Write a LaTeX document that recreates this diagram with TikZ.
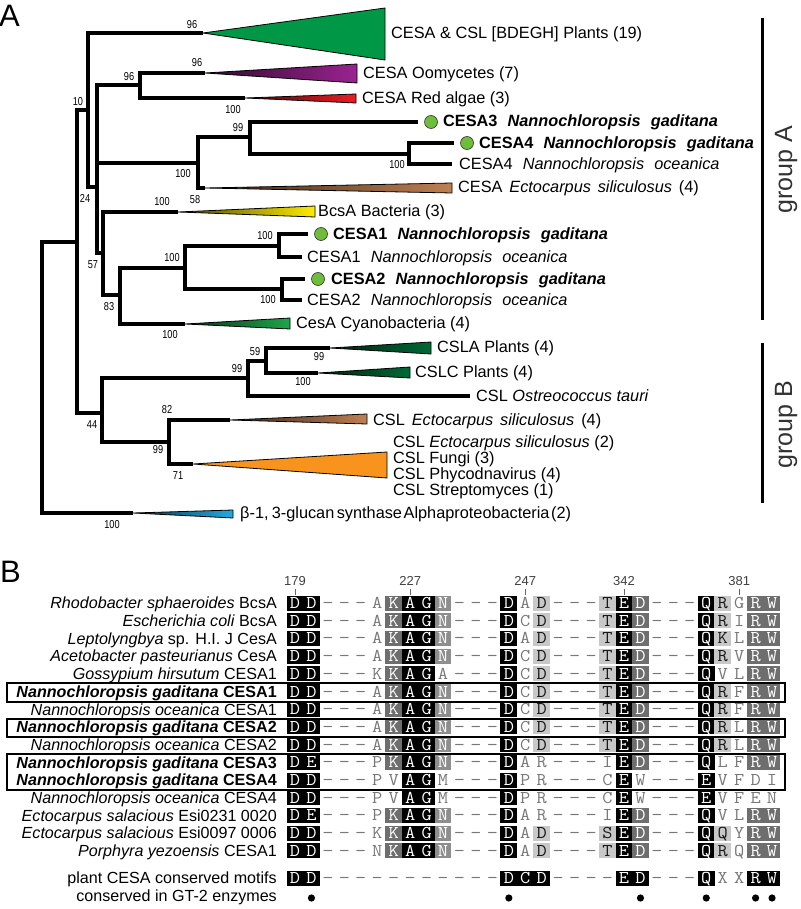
\documentclass[tikz,border=0pt]{standalone}
\usepackage{fontspec}
\usepackage{graphicx}
\setmainfont{Liberation Sans}
\newfontfamily\narrowfont[FakeStretch=0.8]{Liberation Sans}
\usetikzlibrary{calc}
\definecolor{cPlant}{RGB}{0,152,70}
\definecolor{cPurp}{RGB}{155,35,145}
\definecolor{cRed}{RGB}{237,28,36}
\definecolor{cBrown}{RGB}{190,128,82}
\definecolor{cYel}{RGB}{255,236,0}
\definecolor{cCyan}{RGB}{30,165,75}
\definecolor{cDkG}{RGB}{0,105,55}
\definecolor{cOra}{RGB}{248,148,30}
\definecolor{cBlue}{RGB}{35,170,225}
\definecolor{cDot}{RGB}{110,190,60}
\definecolor{cG}{RGB}{110,110,110}
\definecolor{cM}{RGB}{142,142,142}
\definecolor{cL}{RGB}{200,200,200}
\definecolor{cT}{RGB}{120,120,120}
\definecolor{cGrp}{RGB}{50,50,50}
\newcommand{\lbsize}{\fontsize{16.3}{19}\selectfont}
\newcommand{\alsize}{\fontsize{16.1}{19}\selectfont}
\newcommand{\bsfont}{\narrowfont\fontsize{11.5}{13}\selectfont}
\newcommand{\alfont}{\ttfamily\fontsize{18}{18}\selectfont}
\newcommand{\wsp}{\hspace{0.62em}}
\newcommand{\msp}{\hspace{0.42em}}
\newcommand{\alnch}[1]{\if-#1\scalebox{1.2}[1]{-}\else\scalebox{1.1}[1]{#1}\fi}
\newcommand{\shtri}[6]{\draw[tri, left color=#6!30!black, right color=#6] (#1,#2) -- (#3,#4) -- (#3,#5) -- cycle;}
\newcommand{\alnrow}[3]{\foreach \alc/\alk [count=\ci from 0] in {#3}{\node[cell\alk] (a#1-\ci) at ({295+16.45*\ci},#2) {\alnch{\alc}};}}
\begin{document}
\begin{tikzpicture}[x=1pt,y=-1pt,
  br/.style={line width=3.1pt, line join=miter},
  tri/.style={line width=0.8pt, draw=black},
  bs/.style={font=\bsfont, inner sep=0pt},
  lab/.style={anchor=base west, inner sep=0pt, yshift=-5.8pt, font=\lbsize},
  alab/.style={anchor=base east, inner sep=0pt, yshift=-5.8pt, font=\alsize},
  gdot/.style={circle, fill=cDot, draw=black!80, line width=0.6pt, minimum size=13pt, inner sep=0pt},
  cellbase/.style={minimum width=16.8pt, minimum height=15pt, inner sep=0pt, text height=11pt, text depth=0pt, font=\alfont},
  cellB/.style={cellbase, fill=black, text=white},
  cellG/.style={cellbase, fill=cG, text=white},
  cellM/.style={cellbase, fill=cM, text=white},
  cellL/.style={cellbase, fill=cL, text=black!90},
  cellW/.style={cellbase, text=cT},
  celln/.style={cellbase, text=cT},
  hdr/.style={font=\fontsize{13}{13}\selectfont, text=black!75, inner sep=0pt},
  tick/.style={line width=1pt, black!60},
  boxline/.style={line width=1.6pt, draw=black},
  grp/.style={font=\fontsize{25}{25}\selectfont, text=cGrp, rotate=90, inner sep=0pt},
  panel/.style={font=\fontsize{31}{31}\selectfont, anchor=base west, inner sep=0pt}]
\useasboundingbox (0,0) rectangle (800,909);

% ---------------- panel A : tree ----------------
\node[panel] (pA) at (-1,27) {A};

% branches
\draw[br] (77,242) -- (42,242) -- (42,513) -- (133,513);
\draw[br] (88,110) -- (77,110) -- (77,413) -- (102,413);
\draw[br] (203,33) -- (88,33) -- (88,187) -- (97,187);
\draw[br] (140,85) -- (97,85) -- (97,253) -- (103,253);
\draw[br] (97,163) -- (198,163);
\draw[br] (205,73) -- (140,73) -- (140,98) -- (245,98);
\draw[br] (250,137) -- (198,137) -- (198,188) -- (205,188);
\draw[br] (418,122) -- (250,122) -- (250,154) -- (409,154);
\draw[br] (454,143) -- (409,143) -- (409,164) -- (452,164);
\draw[br] (178,212) -- (103,212) -- (103,295) -- (120,295);
\draw[br] (185,268) -- (120,268) -- (120,324) -- (185,324);
\draw[br] (279,246) -- (185,246) -- (185,289) -- (282,289);
\draw[br] (308,234) -- (279,234) -- (279,257) -- (302,257);
\draw[br] (305,279) -- (282,279) -- (282,300) -- (302,300);
\draw[br] (248,378) -- (102,378) -- (102,442) -- (169,442);
\draw[br] (266,361) -- (248,361) -- (248,396) -- (470,396);
\draw[br] (330,348) -- (266,348) -- (266,373) -- (318,373);
\draw[br] (230,420) -- (169,420) -- (169,464) -- (193,464);

% collapsed clades
\draw[tri, fill=cPlant] (203,33) -- (385,8) -- (385,60) -- cycle;
\shtri{205}{73}{357}{64}{83}{cPurp}
\shtri{245}{98}{356}{94}{103}{cRed}
\shtri{205}{188}{452}{183}{193}{cBrown}
\shtri{178}{212}{315}{206}{217}{cYel}
\shtri{185}{324}{290}{318}{329}{cCyan}
\shtri{330}{348}{431}{342}{354}{cDkG}
\shtri{318}{373}{410}{367}{378}{cDkG}
\shtri{230}{420}{367}{414}{424}{cBrown}
\draw[tri, fill=cOra] (193,464) -- (387,452) -- (387,478) -- cycle;
\shtri{133}{513}{233}{510}{518}{cBlue}

% bootstrap values
\node[bs] (b1) at (192,25) {96};
\node[bs] (b2) at (197,63) {96};
\node[bs] (b3) at (129,77) {96};
\node[bs] (b4) at (233,110) {100};
\node[bs] (b5) at (78,102) {10};
\node[bs] (b6) at (238,128) {99};
\node[bs] (b7) at (397,165) {100};
\node[bs] (b8) at (183,174) {100};
\node[bs] (b9) at (85,198) {24};
\node[bs] (b10) at (162,202) {100};
\node[bs] (b11) at (195,200) {58};
\node[bs] (b12) at (93,265) {57};
\node[bs] (b13) at (265,236) {100};
\node[bs] (b14) at (172,258) {100};
\node[bs] (b15) at (268,300) {100};
\node[bs] (b16) at (109,307) {83};
\node[bs] (b17) at (170,335) {100};
\node[bs] (b18) at (255,352) {59};
\node[bs] (b19) at (319,357) {99};
\node[bs] (b20) at (237,369) {99};
\node[bs] (b21) at (303,382) {100};
\node[bs] (b22) at (167,410) {82};
\node[bs] (b23) at (92,425) {44};
\node[bs] (b24) at (158,450) {99};
\node[bs] (b25) at (178,476) {71};
\node[bs] (b26) at (112,525) {100};

% leaf labels
\node[lab] (tPl) at (391,33) {CESA \& CSL [BDEGH] Plants (19)};
\node[lab] (tOo) at (363,73) {CESA Oomycetes (7)};
\node[lab] (tRa) at (362,98) {CESA Red algae (3)};
\node[gdot] (d3) at (431,122) {};
\node[lab] (t3) at (443,121) {\bfseries CESA3\wsp\textit{Nannochloropsis}\wsp\textit{gaditana}};
\node[gdot] (d4) at (467,143) {};
\node[lab] (t4) at (479,143) {\bfseries CESA4\wsp\textit{Nannochloropsis}\wsp\textit{gaditana}};
\node[lab] (t4o) at (459,164) {CESA4\wsp\textit{Nannochloropsis}\wsp\textit{oceanica}};
\node[lab] (tEc) at (458,187) {CESA\msp\textit{Ectocarpus}\msp\textit{siliculosus}\msp(4)};
\node[lab] (tBc) at (318,211) {BcsA Bacteria (3)};
\node[gdot] (d1) at (321,234) {};
\node[lab] (t1) at (333,234) {\bfseries CESA1\wsp\textit{Nannochloropsis}\wsp\textit{gaditana}};
\node[lab] (t1o) at (307,257) {CESA1\wsp\textit{Nannochloropsis}\wsp\textit{oceanica}};
\node[gdot] (d2) at (318,279) {};
\node[lab] (t2) at (331,279) {\bfseries CESA2\wsp\textit{Nannochloropsis}\wsp\textit{gaditana}};
\node[lab] (t2o) at (307,300) {CESA2\wsp\textit{Nannochloropsis}\wsp\textit{oceanica}};
\node[lab] (tCy) at (296,323) {CesA Cyanobacteria (4)};
\node[lab] (tLA) at (437,347) {CSLA Plants (4)};
\node[lab] (tLC) at (415,372) {CSLC Plants (4)};
\node[lab] (tOs) at (476,396) {CSL \textit{Ostreococcus tauri}};
\node[lab] (tEc2) at (373,420) {CSL\msp\textit{Ectocarpus}\msp\textit{siliculosus}\msp(4)};
\node[lab] (tEc3) at (393,442) {CSL \textit{Ectocarpus siliculosus} (2)};
\node[lab] (tFu) at (393,458) {CSL Fungi (3)};
\node[lab] (tPh) at (393,474) {CSL Phycodnavirus (4)};
\node[lab] (tSt) at (393,490) {CSL Streptomyces (1)};
\node[lab] (tBe) at (240,513) {β-1,\hspace{0.2em}3-glucan\hspace{0.15em}synthase\hspace{0.1em}Alphaproteobacteria\hspace{0.1em}(2)};

% groups
\draw[line width=3pt] (762,18) -- (762,320);
\draw[line width=3pt] (762,343) -- (762,503);
\node[grp] (gA) at (786,170) {group A};
\node[grp] (gB) at (786,425) {group B};

% ---------------- panel B : alignment ----------------
\node[panel] (pB) at (0,582) {B};

\node[hdr] (h1) at (295,581) {179};
\node[hdr] (h2) at (410.2,581) {227};
\node[hdr] (h3) at (525.3,581) {247};
\node[hdr] (h4) at (624,581) {342};
\node[hdr] (h5) at (739.2,581) {381};
\foreach \tx in {295,410.2,525.3,624,739.2} {\draw[tick] (\tx,589) -- (\tx,595);}

\node[alab] (l0) at (277,603) {\textit{Rhodobacter sphaeroides} BcsA};
\node[alab] (l1) at (277,620.7) {\textit{Escherichia coli} BcsA};
\node[alab] (l2) at (277,638.4) {\textit{Leptolyngbya} sp. H.I. J CesA};
\node[alab] (l3) at (277,656.1) {\textit{Acetobacter pasteurianus} CesA};
\node[alab] (l4) at (277,673.8) {\textit{Gossypium hirsutum} CESA1};
\node[alab] (l5) at (277,691.5) {\bfseries\textit{Nannochloropsis gaditana} CESA1};
\node[alab] (l6) at (277,709.2) {\textit{Nannochloropsis oceanica} CESA1};
\node[alab] (l7) at (277,726.9) {\bfseries\textit{Nannochloropsis gaditana} CESA2};
\node[alab] (l8) at (277,744.6) {\textit{Nannochloropsis oceanica} CESA2};
\node[alab] (l9) at (277,762.3) {\bfseries\textit{Nannochloropsis gaditana} CESA3};
\node[alab] (l10) at (277,780) {\bfseries\textit{Nannochloropsis gaditana} CESA4};
\node[alab] (l11) at (277,797.7) {\textit{Nannochloropsis oceanica} CESA4};
\node[alab] (l12) at (277,815.4) {\textit{Ectocarpus salacious} Esi0231 0020};
\node[alab] (l13) at (277,833.1) {\textit{Ectocarpus salacious} Esi0097 0006};
\node[alab] (l14) at (277,850.8) {\textit{Porphyra yezoensis} CESA1};
\node[alab] (l15) at (277,878) {plant CESA conserved motifs};
\node[alab] (l16) at (277,896) {conserved in GT-2 enzymes};

\alnrow{0}{603}{D/B,D/B,-/n,-/n,-/n,A/W,K/G,A/B,G/B,N/M,-/n,-/n,-/n,D/B,A/W,D/L,-/n,-/n,-/n,T/L,E/B,D/G,-/n,-/n,-/n,Q/B,R/L,G/W,R/G,W/G}
\alnrow{1}{620.7}{D/B,D/B,-/n,-/n,-/n,A/W,K/G,A/B,G/B,N/M,-/n,-/n,-/n,D/B,C/W,D/L,-/n,-/n,-/n,T/L,E/B,D/G,-/n,-/n,-/n,Q/B,R/L,I/W,R/G,W/G}
\alnrow{2}{638.4}{D/B,D/B,-/n,-/n,-/n,A/W,K/G,A/B,G/B,N/M,-/n,-/n,-/n,D/B,A/W,D/L,-/n,-/n,-/n,T/L,E/B,D/G,-/n,-/n,-/n,Q/B,K/L,L/W,R/G,W/G}
\alnrow{3}{656.1}{D/B,D/B,-/n,-/n,-/n,A/W,K/G,A/B,G/B,N/M,-/n,-/n,-/n,D/B,C/W,D/L,-/n,-/n,-/n,T/L,E/B,D/G,-/n,-/n,-/n,Q/B,R/L,V/W,R/G,W/G}
\alnrow{4}{673.8}{D/B,D/B,-/n,-/n,-/n,K/W,K/G,A/B,G/B,A/W,-/n,-/n,-/n,D/B,C/W,D/L,-/n,-/n,-/n,T/L,E/B,D/G,-/n,-/n,-/n,Q/B,V/W,L/W,R/G,W/G}
\alnrow{5}{691.5}{D/B,D/B,-/n,-/n,-/n,A/W,K/G,A/B,G/B,N/M,-/n,-/n,-/n,D/B,C/W,D/L,-/n,-/n,-/n,T/L,E/B,D/G,-/n,-/n,-/n,Q/B,R/L,F/W,R/G,W/G}
\alnrow{6}{709.2}{D/B,D/B,-/n,-/n,-/n,A/W,K/G,A/B,G/B,N/M,-/n,-/n,-/n,D/B,C/W,D/L,-/n,-/n,-/n,T/L,E/B,D/G,-/n,-/n,-/n,Q/B,R/L,F/W,R/G,W/G}
\alnrow{7}{726.9}{D/B,D/B,-/n,-/n,-/n,A/W,K/G,A/B,G/B,N/M,-/n,-/n,-/n,D/B,C/W,D/L,-/n,-/n,-/n,T/L,E/B,D/G,-/n,-/n,-/n,Q/B,R/L,L/W,R/G,W/G}
\alnrow{8}{744.6}{D/B,D/B,-/n,-/n,-/n,A/W,K/G,A/B,G/B,N/M,-/n,-/n,-/n,D/B,C/W,D/L,-/n,-/n,-/n,T/L,E/B,D/G,-/n,-/n,-/n,Q/B,R/L,L/W,R/G,W/G}
\alnrow{9}{762.3}{D/B,E/B,-/n,-/n,-/n,P/W,K/G,A/B,G/B,N/M,-/n,-/n,-/n,D/B,A/W,R/W,-/n,-/n,-/n,I/W,E/B,D/G,-/n,-/n,-/n,Q/B,L/W,F/W,R/G,W/G}
\alnrow{10}{780}{D/B,D/B,-/n,-/n,-/n,P/W,V/W,A/B,G/B,M/W,-/n,-/n,-/n,D/B,P/W,R/W,-/n,-/n,-/n,C/W,E/B,W/W,-/n,-/n,-/n,E/B,V/W,F/W,D/W,I/W}
\alnrow{11}{797.7}{D/B,D/B,-/n,-/n,-/n,P/W,V/W,A/B,G/B,M/W,-/n,-/n,-/n,D/B,P/W,R/W,-/n,-/n,-/n,C/W,E/B,W/W,-/n,-/n,-/n,E/B,V/W,F/W,E/W,N/W}
\alnrow{12}{815.4}{D/B,E/B,-/n,-/n,-/n,P/W,K/G,A/B,G/B,N/M,-/n,-/n,-/n,D/B,A/W,R/W,-/n,-/n,-/n,I/W,E/B,D/G,-/n,-/n,-/n,Q/B,V/W,L/W,R/G,W/G}
\alnrow{13}{833.1}{D/B,D/B,-/n,-/n,-/n,K/W,K/G,A/B,G/B,N/M,-/n,-/n,-/n,D/B,A/W,D/L,-/n,-/n,-/n,S/L,E/B,D/G,-/n,-/n,-/n,Q/B,Q/L,Y/W,R/G,W/G}
\alnrow{14}{850.8}{D/B,D/B,-/n,-/n,-/n,N/W,K/G,A/B,G/B,N/M,-/n,-/n,-/n,D/B,A/W,D/L,-/n,-/n,-/n,T/L,E/B,D/G,-/n,-/n,-/n,Q/B,R/L,Q/W,R/G,W/G}
\alnrow{15}{878}{D/B,D/B,-/n,-/n,-/n,-/n,-/n,-/n,-/n,-/n,-/n,-/n,-/n,D/B,C/B,D/B,-/n,-/n,-/n,-/n,E/B,D/B,-/n,-/n,-/n,Q/B,X/W,X/W,R/B,W/B}

\foreach \dc in {1,13,21,25,28,29} {\fill ({295+16.45*\dc},898) circle (3.6pt);}

\draw[boxline] (7,683) rectangle (785,702);
\draw[boxline] (7,719) rectangle (785,737);
\draw[boxline] (7,754) rectangle (785,790);
\end{tikzpicture}
\end{document}
